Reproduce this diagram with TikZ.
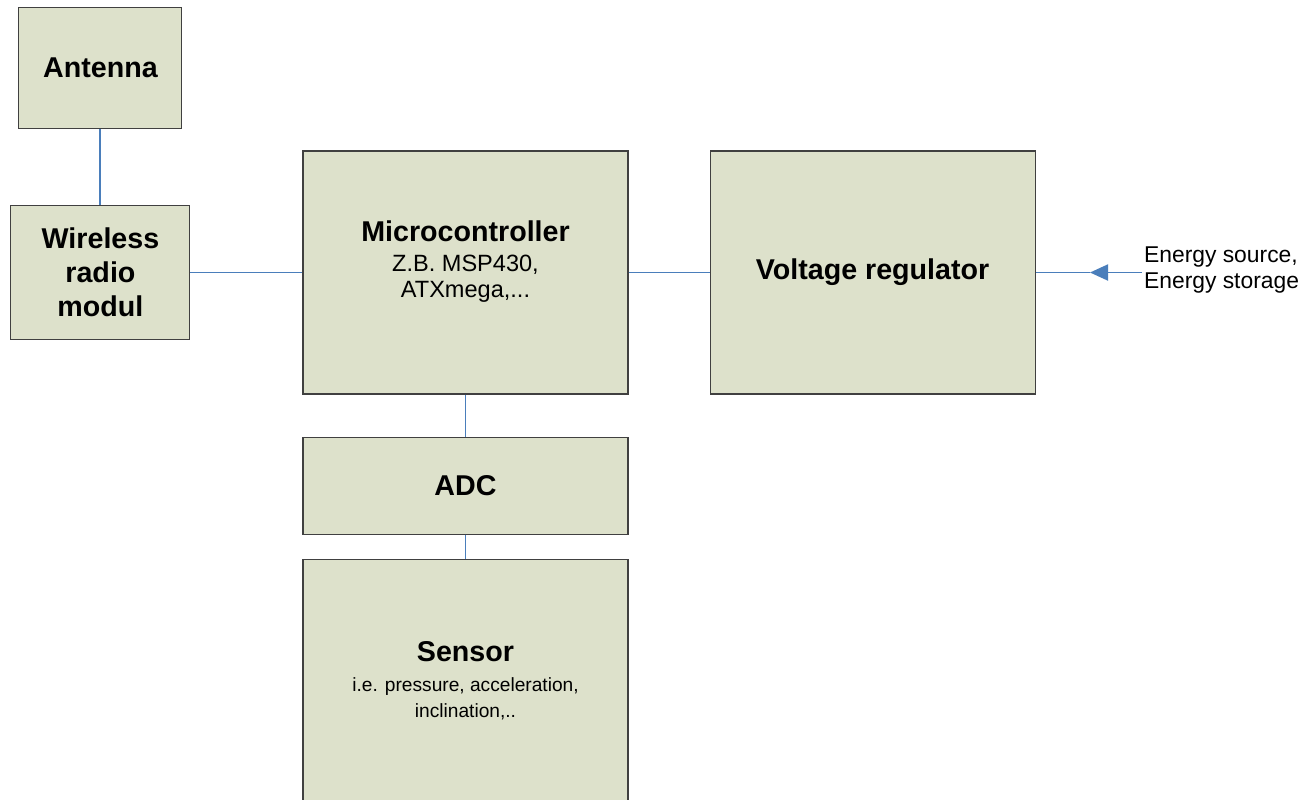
\documentclass[tikz,border=0pt]{standalone}
\usepackage{fontspec}
\setmainfont{Liberation Sans}
\usepackage{xcolor}
\usetikzlibrary{arrows.meta, positioning}

\definecolor{boxfill}{RGB}{221,225,203}
\definecolor{boxline}{RGB}{64,64,64}
\definecolor{wireblue}{RGB}{74,126,187}

\newcommand{\titlefont}{\fontsize{16.3}{19.3}\selectfont\bfseries}
\newcommand{\subfont}{\fontsize{13.4}{15.3}\selectfont\mdseries}
\newcommand{\smallsubfont}{\fontsize{10.9}{15.3}\selectfont\mdseries}
\newcommand{\energyfont}{\fontsize{13}{15.3}\selectfont\mdseries}

\begin{document}
\begin{tikzpicture}[
    block/.style={rectangle, draw=boxline, line width=0.6pt, fill=boxfill, minimum width=6.5cm, minimum height=4.86cm, align=center, inner sep=2pt, font=\titlefont},
    wire/.style={draw=wireblue, line width=1.1pt},
    arrow/.style={wire, -{Triangle[length=3.6mm, width=3.2mm]}, color=wireblue}
]
\useasboundingbox (0,0) rectangle (26.06,-15.98);

\node[block] (micro) at (9.31,-5.45) {Microcontroller\\[-2.2pt]\subfont Z.B. MSP430,\\[-4.5pt]\subfont ATXmega,...\\[-4.5pt]\subfont\mbox{}};
\node[block, right=1.62cm of micro] (volt) {Voltage regulator};
\node[block, below=0.84cm of micro, minimum height=1.94cm] (adc) {ADC};
\node[block, below=0.48cm of adc, minimum height=4.88cm] (sensor) {Sensor\\[-2.2pt]\smallsubfont i.e. pressure, acceleration,\\[-4.5pt]\smallsubfont inclination,..};
\node[block, left=2.24cm of micro, minimum width=3.58cm, minimum height=2.68cm] (radio) {Wireless\\radio\\modul};
\node[block, above=1.52cm of radio, minimum width=3.26cm, minimum height=2.42cm] (antenna) {Antenna};
\node[align=left, inner sep=1pt, anchor=west, font=\energyfont] (energy) at (22.84,-5.40) {Energy source,\\Energy storage};

\coordinate (tip) at (21.8,-5.45);

\draw[wire] (antenna) -- (radio);
\draw[wire] (radio) -- (micro);
\draw[wire] (micro) -- (volt);
\draw[wire] (micro) -- (adc);
\draw[wire] (adc) -- (sensor);
\draw[arrow] (energy.west |- volt.east) -- (tip);
\draw[wire] (tip) -- (volt.east);

\end{tikzpicture}
\end{document}
